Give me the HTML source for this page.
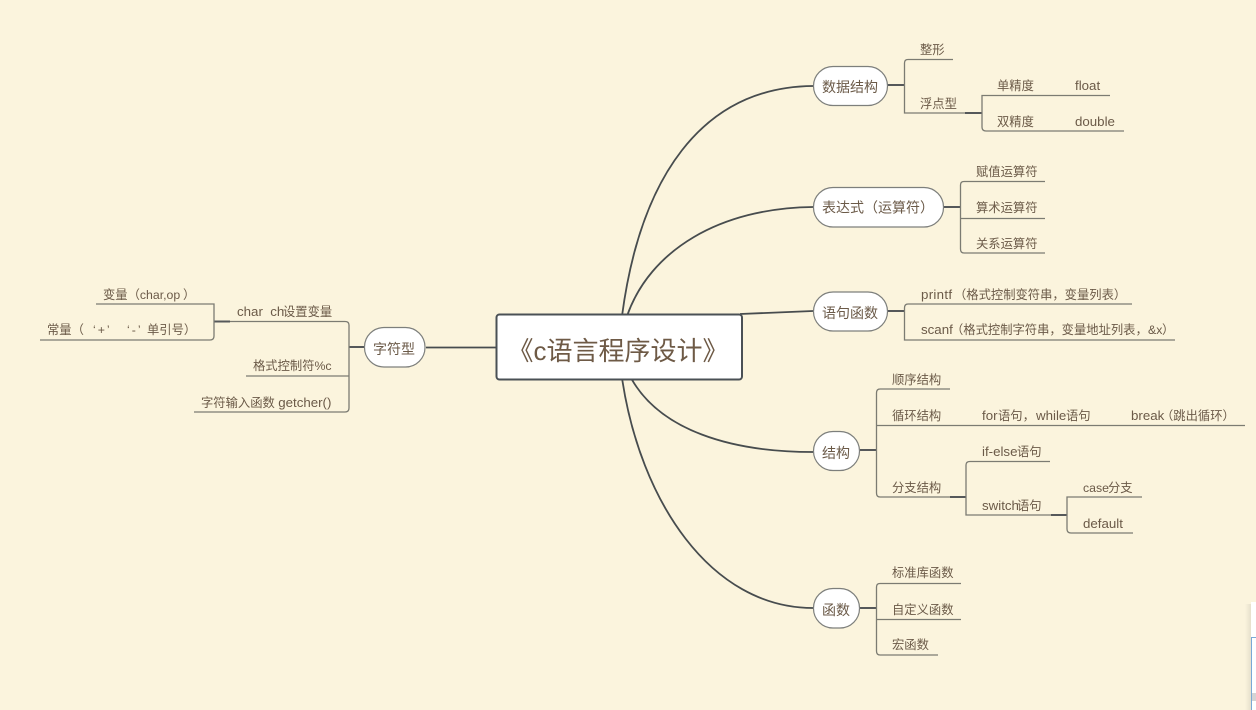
<!DOCTYPE html>
<html lang="zh">
<head>
<meta charset="utf-8">
<style>
html,body{margin:0;padding:0;width:1256px;height:710px;overflow:hidden;background:#fbf4dd}
svg{display:block}
text{font-family:"Liberation Sans","Noto Sans CJK SC",sans-serif;fill:#6b5a48;font-size:12.3px;white-space:pre}
.n{font-size:14px}
.e{font-size:13.3px}
.q{letter-spacing:2px}
.c{stroke:#474c4e;stroke-width:1.8;fill:none}
.l{stroke:#7b7b72;stroke-width:1.3;fill:none}
.t{stroke:#55585a;stroke-width:2;fill:none}
.p{fill:#fff;stroke:#7d7f7c;stroke-width:1.2}
</style>
</head>
<body>
<svg width="1256" height="710" viewBox="0 0 1256 710" xmlns="http://www.w3.org/2000/svg">
<defs>
<linearGradient id="sh" x1="0" x2="1" y1="0" y2="0">
<stop offset="0" stop-color="#fbf4dd"/>
<stop offset="1" stop-color="#e6e0cc"/>
</linearGradient>
</defs>
<rect width="1256" height="710" fill="#fbf4dd"/>

<!-- main curves -->
<path class="c" d="M622 316C640 180 700 87 813 86"/>
<path class="c" d="M627 316C650 250 720 208 813 207"/>
<path class="c" d="M740 314L813 311"/>
<path class="c" d="M631 378C660 430 730 452 813 452"/>
<path class="c" d="M622 378C640 500 710 608 813 608"/>
<path class="c" d="M426 347.500H497"/>

<!-- 数据结构 -->
<path class="t" d="M887 85H904"/>
<path class="l" d="M953 59.500H908Q904.500 59.500 904.500 63V113H965"/>
<path class="t" d="M965 113H982"/>
<path class="l" d="M1110 95.500H982V127Q982 131 986 131H1124"/>

<!-- 表达式 -->
<path class="t" d="M943 207H960"/>
<path class="l" d="M1045 181.500H964Q960.500 181.500 960.500 185V249Q960.500 253 964 253H1045"/>
<path class="l" d="M960 218.500H1045"/>

<!-- 语句函数 -->
<path class="t" d="M887 311H904"/>
<path class="l" d="M1132 304H908Q904.500 304 904.500 308V340H1175"/>

<!-- 结构 -->
<path class="t" d="M860 450H876"/>
<path class="l" d="M950 389H880Q876.500 389 876.500 393V493Q876.500 497 880 497H950"/>
<path class="l" d="M876 425.500H1245"/>
<path class="t" d="M950 497H966"/>
<path class="l" d="M1050 461.500H970Q966 461.500 966 465V515H1051"/>
<path class="t" d="M1051 515H1067"/>
<path class="l" d="M1142 497H1067V529Q1067 533 1071 533H1133"/>

<!-- 函数 -->
<path class="t" d="M860 608H876"/>
<path class="l" d="M961 583.500H880Q876.500 583.500 876.500 587V651Q876.500 655 880 655H938"/>
<path class="l" d="M876 619.500H961"/>

<!-- 字符型 -->
<path class="t" d="M349 347H364"/>
<path class="l" d="M230 321.500H345Q349 321.500 349 325V408Q349 412 345 412H194"/>
<path class="l" d="M246 376H349"/>
<path class="t" d="M214 321.500H230"/>
<path class="l" d="M96 304H214V336Q214 340 210 340H40"/>

<!-- nodes -->
<rect x="496.500" y="314.500" width="245.500" height="65" rx="3" fill="#fff" stroke="#4a5055" stroke-width="2"/>
<text x="618" y="360" text-anchor="middle" style="font-size:26px;fill:#6e5a46">《c语言程序设计》</text>

<rect class="p" x="813.500" y="66.500" width="74" height="39" rx="19.500"/>
<text class="n" x="822" y="92">数据结构</text>
<rect class="p" x="813.500" y="187.500" width="130" height="39.500" rx="19.500"/>
<text class="n" x="822" y="212.500">表达式（运算符）</text>
<rect class="p" x="813.500" y="292" width="74" height="39" rx="19.500"/>
<text class="n" x="822" y="318">语句函数</text>
<rect class="p" x="813.500" y="431.500" width="46" height="39" rx="19.500"/>
<text class="n" x="822" y="458">结构</text>
<rect class="p" x="813.500" y="588.500" width="46" height="39.500" rx="19.500"/>
<text class="n" x="822" y="615">函数</text>
<rect class="p" x="364.500" y="327.500" width="60.500" height="39.500" rx="19.500"/>
<text class="n" x="373" y="354">字符型</text>

<!-- labels right -->
<text x="920" y="54">整形</text>
<text x="920" y="108">浮点型</text>
<text x="997" y="90">单精度</text>
<text class="e" x="1075" y="90">float</text>
<text x="997" y="126">双精度</text>
<text class="e" x="1075" y="126">double</text>
<text x="976" y="176">赋值运算符</text>
<text x="976" y="212">算术运算符</text>
<text x="976" y="248">关系运算符</text>
<text x="921" y="299"><tspan class="e" letter-spacing="0.3">printf</tspan><tspan x="954">（格式控制变符串，变量列表）</tspan></text>
<text x="921" y="334"><tspan class="e">scanf</tspan><tspan x="951">（格式控制字符串，变量地址列表，</tspan><tspan x="1148">&amp;x</tspan><tspan x="1162">）</tspan></text>
<text x="892" y="384">顺序结构</text>
<text x="892" y="420">循环结构</text>
<text x="982" y="420"><tspan class="e">for</tspan><tspan x="998">语句，</tspan><tspan class="e" x="1036">while</tspan><tspan x="1066">语句</tspan></text>
<text x="1131" y="420"><tspan class="e">break</tspan><tspan x="1161">（跳出循环）</tspan></text>
<text x="892" y="492">分支结构</text>
<text x="982" y="456"><tspan class="e">if-else</tspan><tspan x="1017">语句</tspan></text>
<text x="982" y="510"><tspan class="e">switch</tspan><tspan x="1017">语句</tspan></text>
<text x="1083" y="492">case<tspan x="1108">分支</tspan></text>
<text class="e" x="1083" y="528">default</text>
<text x="892" y="577">标准库函数</text>
<text x="892" y="614">自定义函数</text>
<text x="892" y="649">宏函数</text>

<!-- labels left -->
<text x="103" y="299">变量（char,op<tspan x="183">）</tspan></text>
<text x="47" y="334">常量（</text>
<text class="q" x="93" y="334">‘+’</text>
<text class="q" x="127" y="334">‘-’</text>
<text x="147" y="334">单引号）</text>
<text x="237" y="316"><tspan class="e">char  ch</tspan><tspan x="283">设置变量</tspan></text>
<text x="253" y="370">格式控制符%c</text>
<text x="201" y="407">字符输入函数 <tspan class="e">getcher()</tspan></text>

<!-- corner window fragment -->
<rect x="1245" y="604" width="6" height="106" fill="url(#sh)"/>
<rect x="1251" y="602" width="5" height="108" fill="#fff"/>
<rect x="1251" y="637" width="5" height="1" fill="#7aa9d6"/>
<rect x="1251" y="637" width="1" height="73" fill="#7aa9d6"/>
<rect x="1252" y="693" width="4" height="8" fill="#d4d4d4"/>
</svg>
</body>
</html>
